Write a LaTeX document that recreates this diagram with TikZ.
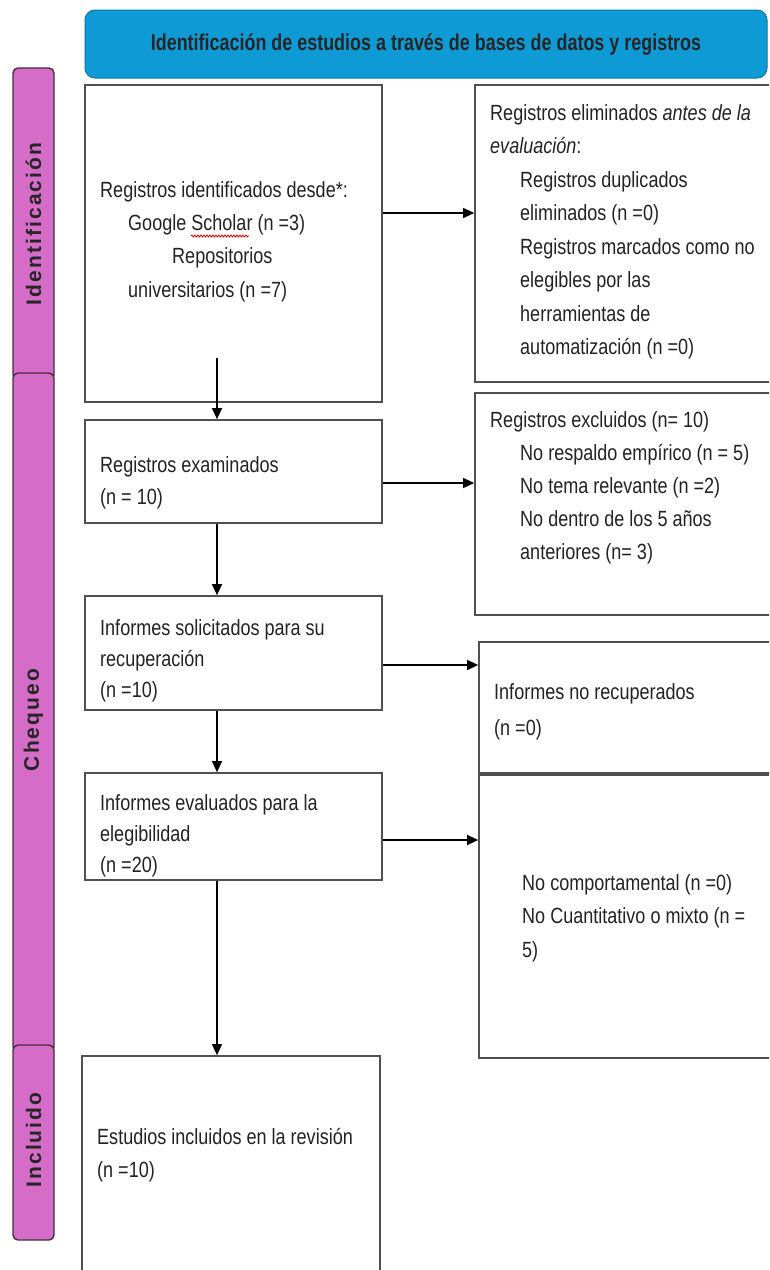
\documentclass[tikz,border=0pt]{standalone}
\usepackage{fontspec}
\setmainfont{Liberation Sans}
\newfontfamily\nar[FakeStretch=0.82]{Liberation Sans}
\newfontfamily\hdrf[FakeStretch=0.78]{Liberation Sans}
\newfontfamily\sidef[LetterSpace=10]{Liberation Sans}
\usetikzlibrary{arrows.meta,decorations.pathmorphing}
\definecolor{hdr}{RGB}{14,154,212}
\definecolor{hdrb}{RGB}{10,120,170}
\definecolor{barc}{RGB}{213,108,200}
\definecolor{barb}{RGB}{70,45,65}
\definecolor{boxb}{RGB}{80,80,80}
\definecolor{txt}{RGB}{35,35,35}
\begin{document}
\begin{tikzpicture}[x=1pt,y=-1pt,
  box/.style={draw=boxb, line width=1.7pt, fill=white, inner sep=0pt},
  sidebar/.style={draw=barb, line width=1.4pt, fill=barc, rounded corners=5pt, inner sep=0pt, minimum width=41pt},
  sidelabel/.style={rotate=90, inner sep=0pt, font=\sidef\bfseries\fontsize{21}{21}\selectfont, text=black!85},
  bodytext/.style={anchor=north west, inner sep=0pt, align=left, text=txt},
  arr/.style={-{Triangle[length=11pt,width=10pt]}, line width=1.4pt, black}]
\path[use as bounding box] (0,0) rectangle (769,1270);
\clip (0,0) rectangle (769,1270);

% side bars
\node[sidebar, minimum height=312pt] (sb1) at (33.5,224) {};
\node[sidebar, minimum height=679pt] (sb2) at (33.5,712.5) {};
\node[sidebar, minimum height=195pt] (sb3) at (33.5,1142.5) {};
\node[sidelabel] (sl1) at (sb1.center) {Identificación};
\node[sidelabel] (sl2) at (33.5,720) {Chequeo};
\node[sidelabel] (sl3) at (33.5,1140) {Incluido};

% header
\node[draw=hdrb, line width=1pt, fill=hdr, rounded corners=10pt, minimum width=682pt, minimum height=68pt, inner sep=0pt] (hd) at (426,44) {};
\node[inner sep=0pt, font=\hdrf\bfseries\fontsize{23}{23}\selectfont, text=black!85] (hdt) at (426,44) {Identificación de estudios a través de bases de datos y registros};

% left boxes
\node[box, minimum width=297pt, minimum height=317pt] (b1) at (233.5,243.5) {};
\node[box, minimum width=297pt, minimum height=103pt] (b2) at (233.5,471.5) {};
\node[box, minimum width=297pt, minimum height=114pt] (b3) at (233.5,653) {};
\node[box, minimum width=297pt, minimum height=107pt] (b4) at (233.5,826.5) {};
\node[box, minimum width=298pt, minimum height=224pt] (b5) at (231,1168) {};

% right boxes
\node[box, minimum width=300pt, minimum height=297pt] (r1) at (625,233.5) {};
\node[box, minimum width=300pt, minimum height=222pt] (r2) at (625,504) {};
\node[box, minimum width=296pt, minimum height=131pt] (r3) at (627,707.5) {};
\node[box, minimum width=296pt, minimum height=283pt] (r4) at (627,916.5) {};

% texts
\node[bodytext, font=\nar\fontsize{22}{33.3}\selectfont] (t1) at (100,181) {Registros identificados desde*:\\\hspace*{28pt}Google Scholar (n =3)\\\hspace*{72pt}Repositorios\\\hspace*{28pt}universitarios (n =7)};
\draw[red!85!black, line width=0.8pt, decorate, decoration={snake, amplitude=1pt, segment length=3pt}] (191,236) -- (249,236);
\node[bodytext, font=\nar\fontsize{22}{32}\selectfont] (t2) at (100,456) {Registros examinados\\(n = 10)};
\node[bodytext, font=\nar\fontsize{22}{31}\selectfont] (t3) at (100,619) {Informes solicitados para su\\recuperación\\(n =10)};
\node[bodytext, font=\nar\fontsize{22}{31}\selectfont] (t4) at (100,794) {Informes evaluados para la\\elegibilidad\\(n =20)};
\node[bodytext, font=\nar\fontsize{22}{33}\selectfont] (t5) at (97,1128) {Estudios incluidos en la revisión\\(n =10)};

\node[bodytext, font=\nar\fontsize{22}{33.5}\selectfont] (u1) at (490,104) {Registros eliminados \textit{antes de la}\\\textit{evaluación}:\\\hspace*{30pt}Registros duplicados\\\hspace*{30pt}eliminados (n =0)\\\hspace*{30pt}Registros marcados como no\\\hspace*{30pt}elegibles por las\\\hspace*{30pt}herramientas de\\\hspace*{30pt}automatización (n =0)};
\node[bodytext, font=\nar\fontsize{22}{33}\selectfont] (u2) at (490,411) {Registros excluidos (n= 10)\\\hspace*{30pt}No respaldo empírico (n = 5)\\\hspace*{30pt}No tema relevante (n =2)\\\hspace*{30pt}No dentro de los 5 años\\\hspace*{30pt}anteriores (n= 3)};
\node[bodytext, font=\nar\fontsize{22}{36}\selectfont] (u3) at (494,683) {Informes no recuperados\\(n =0)};
\node[bodytext, font=\nar\fontsize{22}{33.5}\selectfont] (u4) at (522,874) {No comportamental (n =0)\\No Cuantitativo o mixto (n =\\5)};

% arrows
\draw[arr] (b1.east |- 0,213) -- (r1.west |- 0,213);
\draw[arr] (b2.east |- 0,483) -- (r2.west |- 0,483);
\draw[arr] (b3.east |- 0,665) -- (r3.west |- 0,665);
\draw[arr] (b4.east |- 0,840) -- (r4.west |- 0,840);
\draw[arr] (b1.south -| 217,0) ++(0,-45) -- (b2.north -| 217,0);
\draw[arr] (b2.south -| 217,0) -- (b3.north -| 217,0);
\draw[arr] (b3.south -| 217,0) -- (b4.north -| 217,0);
\draw[arr] (b4.south -| 217,0) -- (b5.north -| 217,0);
\end{tikzpicture}
\end{document}
